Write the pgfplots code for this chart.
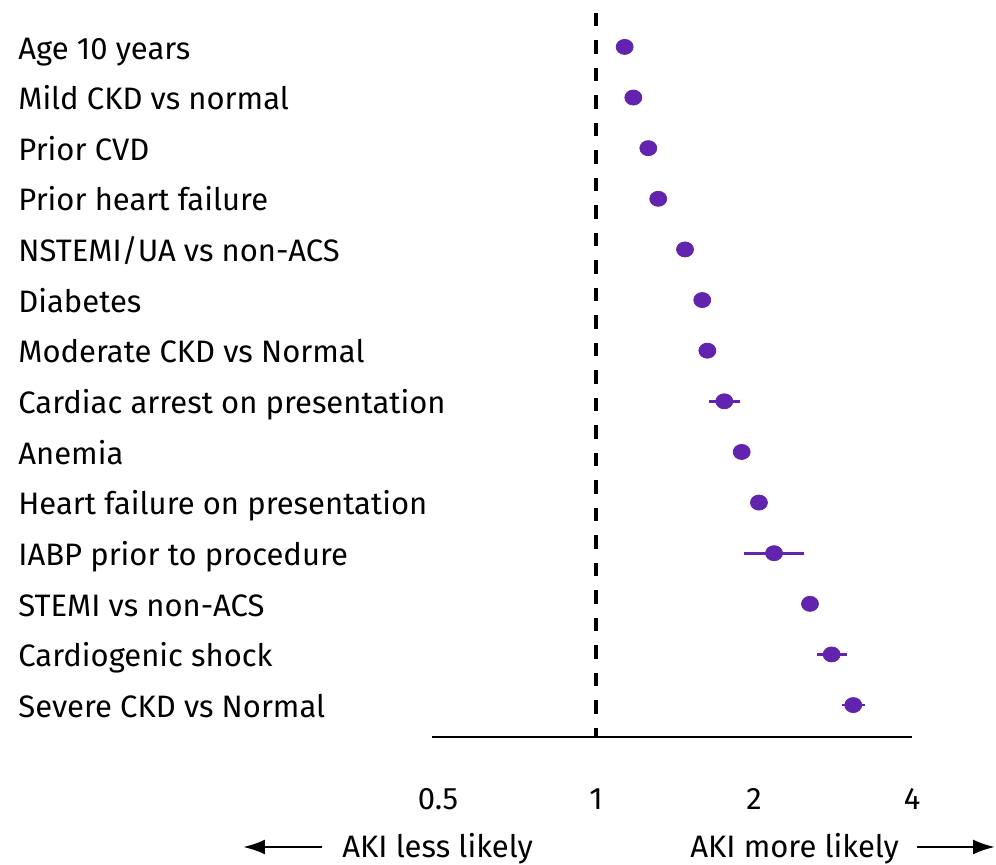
\documentclass[border=0pt]{standalone}
\usepackage{pgfplots}
\pgfplotsset{compat=1.18}
\usepackage{fontspec}
\setmainfont{Fira Sans}
\usetikzlibrary{arrows.meta}
\definecolor{dotpurple}{RGB}{98,35,175}
\begin{document}
\begin{tikzpicture}
\useasboundingbox (-216pt,-64pt) rectangle (282pt,368.5pt);
\begin{axis}[
  at={(0,0)}, anchor=south west,
  scale only axis, width=240pt, height=362pt,
  xmode=log, log basis x=2,
  xmin=0.487, xmax=4, ymin=0.37, ymax=14.67,
  axis lines*=left,
  y axis line style={draw=none},
  x axis line style={black, line width=0.75pt},
  tick style={draw=none},
  xtick={0.5,1,2,4}, xticklabels={0.5,1,2,4},
  ytick={1,...,14},
  yticklabels={Severe CKD vs Normal, Cardiogenic shock, STEMI vs non-ACS, IABP prior to procedure, Heart failure on presentation, Anemia, Cardiac arrest on presentation, Moderate CKD vs Normal, Diabetes, NSTEMI/UA vs non-ACS, Prior heart failure, Prior CVD, Mild CKD vs normal, Age 10 years},
  tick label style={font=\fontsize{15.5}{18}\selectfont, text=black},
  /pgf/number format/assume math mode=true,
  yticklabel style={anchor=base west, inner sep=0pt, xshift=-207pt, yshift=-6.1pt},
  xticklabel style={anchor=north, inner sep=0pt, yshift=-25.5pt},
  clip=false,
]
\addplot[black, line width=2pt, dash pattern=on 6.75pt off 7pt, forget plot] coordinates {(1,14.67) (1,0.37)};
\addplot[dotpurple, line width=1.4pt, forget plot] coordinates {(1.644,7) (1.881,7)};
\addplot[dotpurple, line width=1.4pt, forget plot] coordinates {(1.914,4) (2.491,4)};
\addplot[dotpurple, line width=1.4pt, forget plot] coordinates {(2.634,2) (3.011,2)};
\addplot[dotpurple, line width=1.4pt, forget plot] coordinates {(2.938,1) (3.255,1)};
\addplot[only marks, mark=*, mark size=4pt, color=dotpurple, mark options={xscale=1.06, yscale=0.94, draw=dotpurple, fill=dotpurple}] table[x=or, y=y] {
y or
14 1.134
13 1.178
12 1.258
11 1.314
10 1.478
9 1.594
8 1.630
7 1.756
6 1.895
5 2.044
4 2.184
3 2.557
2 2.812
1 3.092
};
\end{axis}
\node[anchor=base west, inner sep=0pt, font=\fontsize{15.5}{18}\selectfont] at (-45pt,-60.5pt) {AKI less likely};
\node[anchor=base west, inner sep=0pt, font=\fontsize{15.5}{18}\selectfont] at (129pt,-60.5pt) {AKI more likely};
\draw[line width=1.3pt, -{Latex[length=11pt,width=7.5pt]}] (-55pt,-55pt) -- (-94.5pt,-55pt);
\draw[line width=1.3pt, -{Latex[length=11pt,width=7.5pt]}] (242.5pt,-55pt) -- (281.5pt,-55pt);
\end{tikzpicture}
\end{document}
